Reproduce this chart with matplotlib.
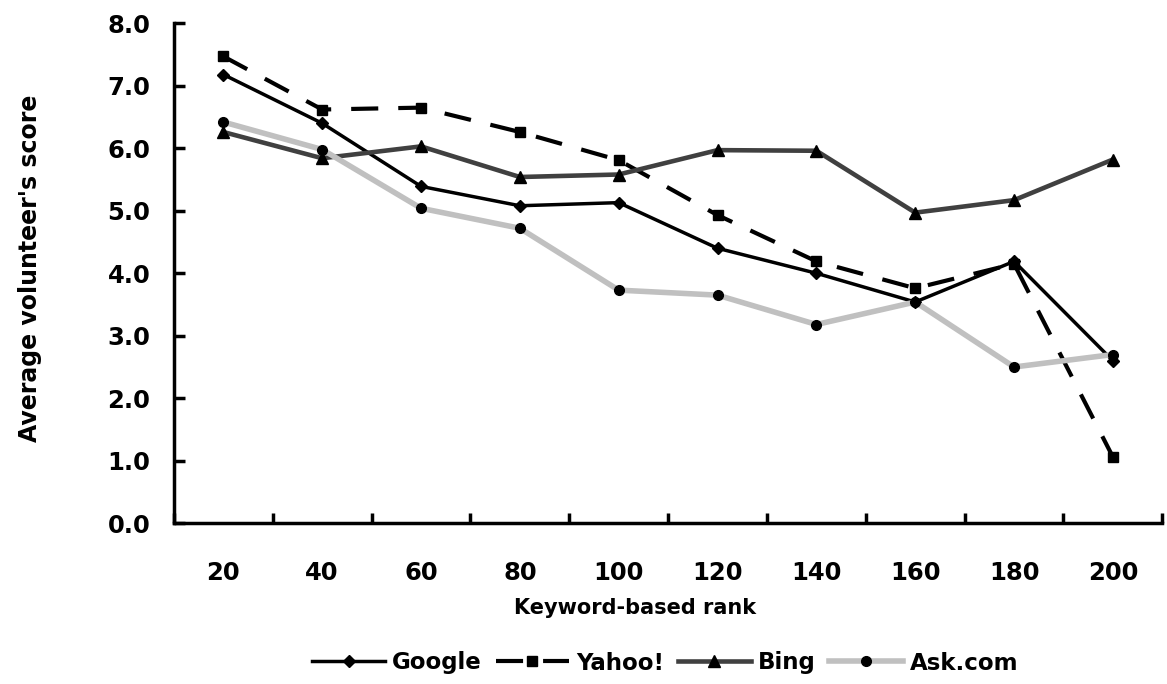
import numpy as np
import matplotlib.pyplot as plt

ranks = [20, 40, 60, 80, 100, 120, 140, 160, 180, 200]
google = [7.18, 6.40, 5.39, 5.08, 5.13, 4.40, 4.00, 3.54, 4.19, 2.60]
yahoo = [7.47, 6.62, 6.65, 6.26, 5.81, 4.93, 4.19, 3.76, 4.15, 1.06]
bing = [6.26, 5.84, 6.03, 5.54, 5.58, 5.97, 5.96, 4.97, 5.17, 5.82]
ask = [6.42, 5.98, 5.04, 4.72, 3.73, 3.65, 3.18, 3.54, 2.50, 2.70]
yticks = [0, 1, 2, 3, 4, 5, 6, 7, 8]

plt.rcParams['font.family'] = 'DejaVu Sans'
plt.rcParams['font.weight'] = 'bold'

fig = plt.figure(figsize=(11.67, 6.84), dpi=100)
ax = fig.add_axes([0.149, 0.235, 0.847, 0.731])

ax.plot(ranks, google, color='black', lw=2.5, marker='D', ms=6, mfc='black', mec='black', label='Google')
ax.plot(ranks, yahoo, color='black', lw=3, dashes=(6.5, 4.8), marker='s', ms=7, mfc='black', mec='black', label='Yahoo!')
ax.plot(ranks, bing, color='#404040', lw=3.3, marker='^', ms=9, mfc='black', mec='black', label='Bing')
ax.plot(ranks, ask, color='#c0c0c0', lw=4, marker='o', ms=7, mfc='black', mec='black', label='Ask.com')

ax.set_xlim(10, 210)
ax.set_ylim(0, 8)
ax.set_xticks(ranks)
ax.set_xticklabels([str(r) for r in ranks])
ax.set_xticks(np.arange(10, 211, 20), minor=True)
ax.set_yticks(yticks)
ax.set_yticklabels(['%.1f' % v for v in yticks])

for s in ['top', 'right']:
    ax.spines[s].set_visible(False)
for s in ['left', 'bottom']:
    ax.spines[s].set_linewidth(2.5)

ax.tick_params(axis='x', which='major', length=0, pad=27, labelsize=17.5)
ax.tick_params(axis='x', which='minor', direction='in', length=7, width=2.5)
ax.tick_params(axis='y', direction='in', length=8, width=2.5, pad=17, labelsize=17.5)
for lab in ax.get_xticklabels() + ax.get_yticklabels():
    lab.set_fontweight('bold')

fig.text(30/1167, 1-268/684, "Average volunteer's score", rotation=90, ha='center', va='center',
         fontsize=17, fontweight='bold')
fig.text(635/1167, 1-608/684, 'Keyword-based rank', ha='center', va='center',
         fontsize=15, fontweight='bold')

fig.legend(loc='center', bbox_to_anchor=(665/1167, 1-663/684), ncol=4, frameon=False,
           handlelength=3.2, columnspacing=0.6, handletextpad=0.3,
           prop={'size': 16.5, 'weight': 'bold'})

fig.savefig('out.png', dpi=100)
